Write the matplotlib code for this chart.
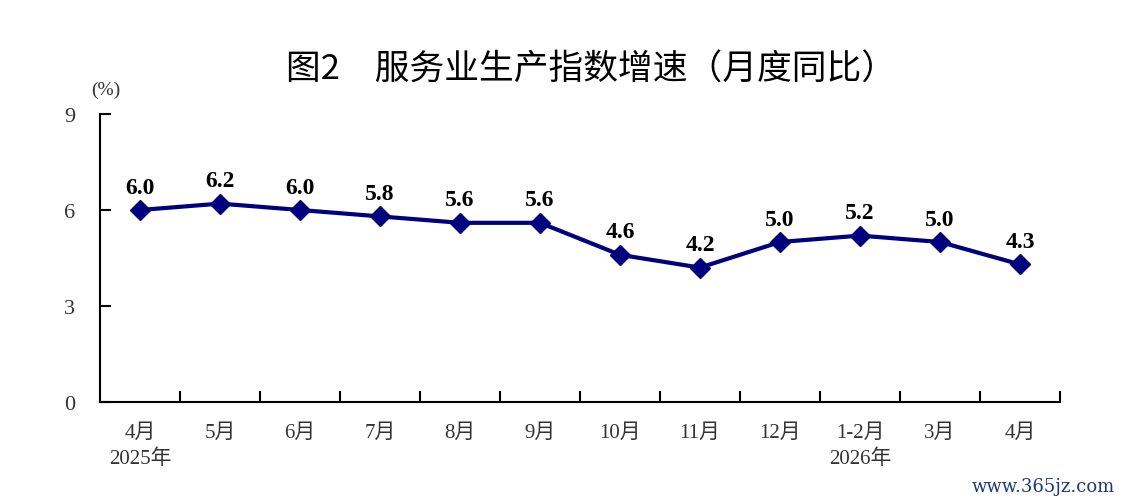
import matplotlib
matplotlib.use('Agg')
import matplotlib.pyplot as plt
from matplotlib.ticker import FixedLocator

months = ['4月\n2025年', '5月', '6月', '7月', '8月', '9月', '10月', '11月',
          '12月', '1-2月\n2026年', '3月', '4月']
growth = [6.0, 6.2, 6.0, 5.8, 5.6, 5.6, 4.6, 4.2, 5.0, 5.2, 5.0, 4.3]
yticks = [0, 3, 6, 9]

serif = ['Liberation Serif', 'Noto Sans CJK SC']
navy = '#00007f'

fig = plt.figure(figsize=(11.24, 5.02), dpi=100)
ax = fig.add_axes([0.08897, 0.1972, 0.8541, 0.5737])

x = list(range(len(growth)))
ax.plot(x, growth, color=navy, lw=3, marker='D', markersize=10, zorder=3)
for xi, v in zip(x, growth):
    ax.annotate(f'{v:.1f}', (xi, v), xytext=(0, 9), textcoords='offset points',
                ha='center', va='bottom', fontsize=17, fontweight='bold',
                family='Liberation Serif', color='black')

ax.set_xlim(-0.5, len(growth) - 0.5)
ax.set_ylim(0, 9)
ax.set_yticks(yticks)
ax.set_yticklabels([str(t) for t in yticks], family='Liberation Serif', fontsize=16, color='#333333')
ax.tick_params(axis='y', direction='in', length=8, width=1.5, pad=18)

ax.set_xticks(x)
ax.set_xticklabels(months, fontsize=15, color='#333333', linespacing=1.45)
for lab in ax.get_xticklabels():
    lab.set_family(serif)
ax.tick_params(axis='x', which='major', length=0, pad=15)
ax.xaxis.set_minor_locator(FixedLocator([i + 0.5 for i in x]))
ax.tick_params(axis='x', which='minor', direction='in', length=8, width=1.5)

for s in ['top', 'right']:
    ax.spines[s].set_visible(False)
for s in ['left', 'bottom']:
    ax.spines[s].set_linewidth(1.5)

fig.text(0.526, 0.86, '图2　服务业生产指数增速（月度同比）', ha='center', va='center',
         fontsize=25, family=['Noto Sans CJK SC', 'DejaVu Sans'], fontweight='medium')
fig.text(0.094, 0.82, '(%)', ha='center', va='center', fontsize=14,
         family='Liberation Serif', color='#333333')
fig.text(0.992, 0.03, 'www.365jz.com', ha='right', va='center', fontsize=13,
         family='DejaVu Serif', color='#1a3a7a')

fig.savefig('out.png', dpi=100)
